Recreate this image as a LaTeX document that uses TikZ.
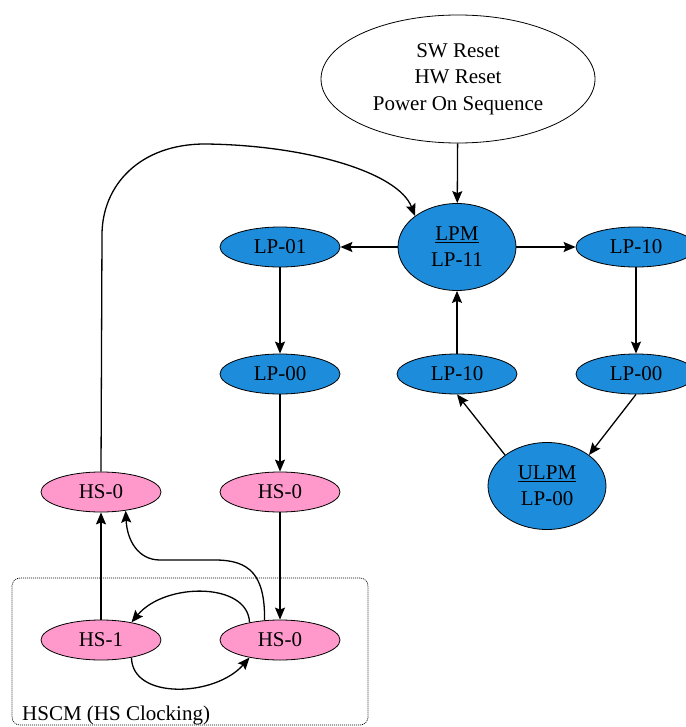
\documentclass[tikz,border=0pt]{standalone}
\usepackage{fontspec}
\setmainfont{Liberation Serif}
\definecolor{LPBlue}{HTML}{1C8CDB}
\definecolor{HSPink}{HTML}{FF99CC}
\usetikzlibrary{shapes.geometric, arrows.meta, positioning}

\begin{document}
\begin{tikzpicture}[x=1pt, y=1pt,
        stnode/.style={ellipse, draw=black, line width=0.8pt, minimum width=120pt, minimum height=40pt, inner sep=0pt, align=center, font=\fontsize{21}{26}\selectfont},
        lp/.style={stnode, fill=LPBlue},
        hs/.style={stnode, fill=HSPink},
        big/.style={minimum width=118pt, minimum height=87pt},
        arr/.style={-{Stealth[length=12pt, width=10pt, inset=2pt]}, line width=1.3pt, black}
    ]
        \useasboundingbox (0,0) rectangle (685,-727);

        \node[draw, dash pattern=on 1pt off 1pt, line width=0.7pt, rounded corners=8pt, minimum width=356pt, minimum height=147pt, inner sep=0pt] (hscm) at (190,-651.5) {};
        \node[anchor=base west, font=\fontsize{21}{26}\selectfont, inner sep=0pt] (hscmlabel) at (22,-720) {HSCM (HS Clocking)};

        \node[stnode, fill=white, minimum width=274pt, minimum height=128pt, font=\fontsize{21}{26.5}\selectfont] (reset) at (458,-79) {SW Reset\\HW Reset\\Power On Sequence};
        \node[lp, big] (lpm) at (457,-247) {\underline{LPM}\\LP-11};
        \node[lp] (lp01) at (280,-247) {LP-01};
        \node[lp] (lp10r) at (636,-247) {LP-10};
        \node[lp] (lp00l) at (280,-374) {LP-00};
        \node[lp] (lp10m) at (457,-374) {LP-10};
        \node[lp] (lp00r) at (636,-374) {LP-00};
        \node[lp, big] (ulpm) at (547,-486) {\underline{ULPM}\\LP-00};
        \node[hs] (hsup) at (101,-492) {HS-0};
        \node[hs] (hsmid) at (280,-492) {HS-0};
        \node[hs] (hs1) at (101,-640) {HS-1};
        \node[hs] (hsbot) at (280,-640) {HS-0};

        \draw[arr] (reset) -- (lpm);
        \draw[arr] (lpm) -- (lp01);
        \draw[arr] (lpm) -- (lp10r);
        \draw[arr] (lp01) -- (lp00l);
        \draw[arr] (lp10r) -- (lp00r);
        \draw[arr] (lp10m) -- (lpm);
        \draw[arr] (lp00r.south) -- (ulpm.north east);
        \draw[arr] (ulpm.north west) -- (lp10m.south);
        \draw[arr] (lp00l) -- (hsmid);
        \draw[arr] (hsmid) -- (hsbot);
        \draw[arr] (hs1) -- (hsup);

        % back to LPM
        \draw[arr] (hsup.north) -- (102,-235) .. controls (102,-185) and (140,-144) .. (205,-144)
            .. controls (305,-145) and (398,-172) .. (lpm.north west);
        \draw[arr] (hsbot.128) .. controls (265,-575) and (250,-560) .. (215,-560) -- (160,-560)
            .. controls (138,-560) and (127,-540) .. (hsup.-37);

        % HSCM loop
        \draw[arr] (hsbot.150) .. controls (248,-582) and (165,-582) .. (hs1.30);
        \draw[arr] (hs1.-30) .. controls (132,-700) and (215,-697) .. (hsbot.-150);
    \end{tikzpicture}
\end{document}
